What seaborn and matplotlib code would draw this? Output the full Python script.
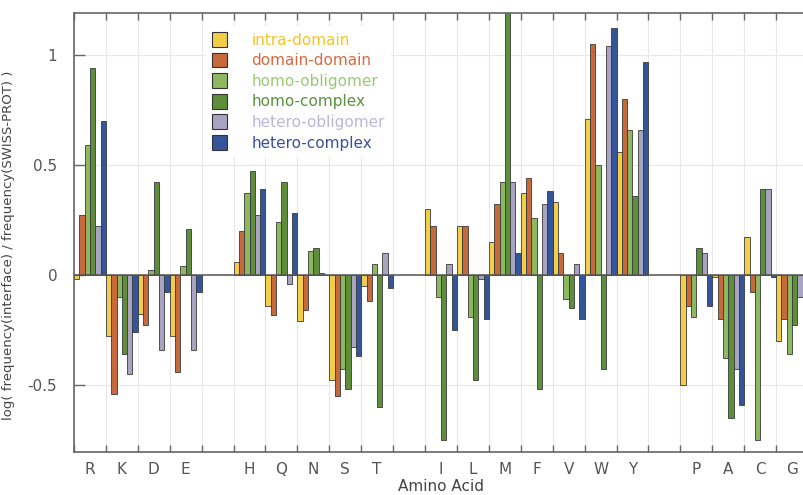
import numpy as np
import pandas as pd
import matplotlib
matplotlib.use('Agg')
import matplotlib.pyplot as plt
from matplotlib.patches import Patch
import seaborn as sns

sns.set_theme(style='white')
plt.rcParams['font.family'] = ['DejaVu Sans']

# amino acids in plotting order, blank slots separate the groups
amino_acids = ['R', 'K', 'D', 'E', 'H', 'Q', 'N', 'S', 'T',
               'I', 'L', 'M', 'F', 'V', 'W', 'Y', 'P', 'A', 'C', 'G']
slot_order = ['R', 'K', 'D', 'E', ' ', 'H', 'Q', 'N', 'S', 'T', '  ',
              'I', 'L', 'M', 'F', 'V', 'W', 'Y', '   ', 'P', 'A', 'C', 'G']

series_names = ['intra-domain', 'domain-domain', 'homo-obligomer',
                'homo-complex', 'hetero-obligomer', 'hetero-complex']

intra_domain = [-0.02, -0.28, -0.18, -0.28, 0.06, -0.14, -0.21, -0.48, -0.05,
                0.30, 0.22, 0.15, 0.37, 0.33, 0.71, 0.56, -0.50, -0.01, 0.17, -0.30]
domain_domain = [0.27, -0.54, -0.23, -0.44, 0.20, -0.185, -0.16, -0.55, -0.12,
                 0.22, 0.22, 0.32, 0.44, 0.10, 1.05, 0.80, -0.14, -0.20, -0.08, -0.20]
homo_obligomer = [0.59, -0.10, 0.02, 0.04, 0.37, 0.24, 0.11, -0.43, 0.05,
                  -0.10, -0.19, 0.42, 0.26, -0.11, 0.50, 0.66, -0.19, -0.38, -0.75, -0.36]
homo_complex = [0.94, -0.36, 0.42, 0.21, 0.47, 0.42, 0.12, -0.52, -0.60,
                -0.75, -0.48, 1.25, -0.52, -0.15, -0.43, 0.36, 0.12, -0.65, 0.39, -0.23]
hetero_obligomer = [0.22, -0.45, -0.34, -0.34, 0.27, -0.04, 0.01, -0.33, 0.10,
                    0.05, -0.02, 0.42, 0.32, 0.05, 1.04, 0.66, 0.10, -0.43, 0.39, -0.10]
hetero_complex = [0.70, -0.26, -0.08, -0.08, 0.39, 0.28, 0.0, -0.37, -0.06,
                  -0.25, -0.20, 0.10, 0.38, -0.20, 1.12, 0.965, -0.14, -0.59, -0.01, -0.15]

bar_colors = ['#F2CE48', '#C8693C', '#8DB862', '#5E8E3A', '#A9A3C2', '#34559A']
text_colors = ['#F4C520', '#D66A40', '#9CC872', '#5A9040', '#BDB5D8', '#3A4EA0']

all_values = [intra_domain, domain_domain, homo_obligomer,
              homo_complex, hetero_obligomer, hetero_complex]
df = pd.DataFrame({
    'amino_acid': amino_acids * len(series_names),
    'interface': np.repeat(series_names, len(amino_acids)),
    'value': np.concatenate(all_values),
})

fig = plt.figure(figsize=(8.04, 4.95), dpi=100)
ax = fig.add_axes([0.092, 0.087, 0.913, 0.887])

sns.barplot(data=df, x='amino_acid', y='value', hue='interface',
            order=slot_order, hue_order=series_names,
            palette=dict(zip(series_names, bar_colors)),
            width=1.0, gap=0, saturation=1, errorbar=None, legend=False,
            edgecolor='#3a3a3a', linewidth=0.6, ax=ax, zorder=2)

ax.axhline(0, color='#555555', lw=1.1, zorder=3)

ax.set_xlim(-0.5, len(slot_order) - 0.5)
ax.set_ylim(-0.805, 1.19)

# slot borders carry the tick marks and grid, labels sit at slot centres
ax.set_xticks(np.arange(-0.5, len(slot_order), 1.0))
ax.set_xticklabels([])
ax.set_xticks(np.arange(len(slot_order)), minor=True)
ax.set_xticklabels([s.strip() for s in slot_order], minor=True)
ax.set_yticks([-0.5, 0, 0.5, 1])
ax.set_yticklabels(['-0.5', '0', '0.5', '1'])

ax.xaxis.grid(True, which='major', color='#e8e8e8', lw=0.8, zorder=0)
ax.yaxis.grid(True, color='#e8e8e8', lw=0.8, zorder=0)
ax.set_axisbelow(True)

ax.tick_params(axis='x', which='major', direction='in', length=5,
               top=True, bottom=True, color='#666666', width=1)
ax.tick_params(axis='x', which='minor', length=0, pad=7,
               labelsize=11, labelcolor='#555555')
ax.tick_params(axis='y', direction='in', length=8, left=True,
               color='#666666', width=1, labelsize=11, labelcolor='#555555', pad=12)

for side in ['left', 'bottom', 'top']:
    ax.spines[side].set_color('#666666')
    ax.spines[side].set_linewidth(1.2)
ax.spines['right'].set_visible(False)

ax.set_xlabel('Amino Acid', fontsize=11, color='#444444', labelpad=2)
ax.set_ylabel('log( frequency(interface) / frequency(SWISS-PROT) )',
              fontsize=9.5, color='#444444')
ax.yaxis.set_label_coords(-0.08, 0.47)

handles = [Patch(facecolor=c, edgecolor='#333333', linewidth=0.8) for c in bar_colors]
leg = ax.legend(handles, series_names, loc='upper left', bbox_to_anchor=(0.18, 0.97),
                borderaxespad=0, frameon=True, fontsize=11, labelcolor=text_colors,
                handlelength=0.95, handleheight=1.1, handletextpad=1.6,
                labelspacing=0.33, borderpad=0.4)
leg.get_frame().set_facecolor('white')
leg.get_frame().set_edgecolor('none')
leg.get_frame().set_alpha(1)

fig.savefig('out.png', dpi=100)
